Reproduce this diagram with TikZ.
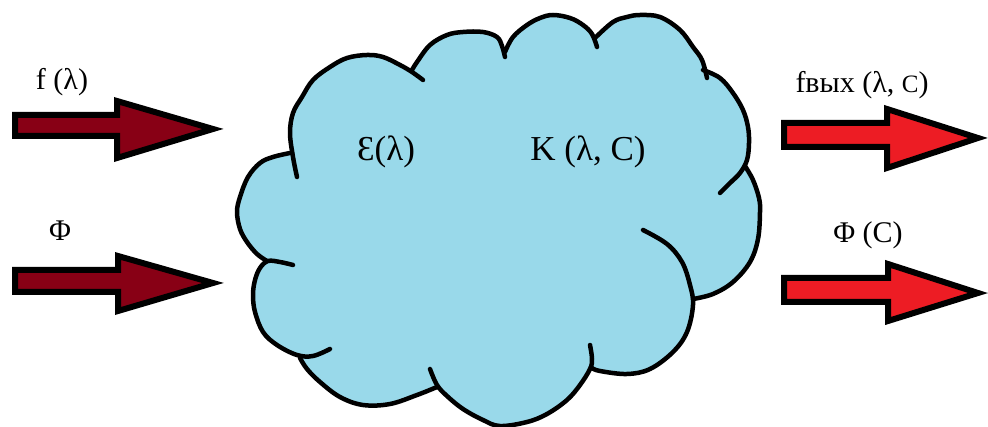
\documentclass[tikz,border=0pt]{standalone}
\usepackage{fontspec}
\setmainfont{Liberation Serif}
\definecolor{cloudblue}{HTML}{99D9EA}
\definecolor{darkred}{HTML}{880015}
\definecolor{brightred}{HTML}{ED1C24}
\begin{document}
\begin{tikzpicture}[x=1pt,y=-1pt,
  lobeline/.style={line width=4.5pt, line cap=round, line join=round},
  lobefill/.style={fill=cloudblue},
  inarrow/.style={draw=black, fill=darkred, line width=6pt, line join=miter},
  outarrow/.style={draw=black, fill=brightred, line width=6pt, line join=miter},
  lbl/.style={font=\fontsize{30}{36}\selectfont, inner sep=0pt},
  cloudlbl/.style={font=\fontsize{35}{42}\selectfont, inner sep=0pt}]
\useasboundingbox (0,0) rectangle (988,427);
\coordinate (cc) at (500,220);
% lobe point lists
\def\lobeA{(267,261) (257,254) (247,242) (240,229) (237,212) (240,197) (248,177) (260,163) (273,157) (290,153)}
\def\lobeB{(297,177) (293,157) (290,133) (293,113) (302,97) (313,80) (330,67) (347,58) (367,55) (383,57) (400,65) (412,72) (423,80)}
\def\lobeC{(412,70) (417,62) (430,45) (447,35) (463,32) (483,32) (497,37) (502,46) (505,57)}
\def\lobeD{(505,52) (513,37) (527,25) (540,18) (553,15) (570,18) (583,25) (592,34) (597,47)}
\def\lobeE{(595,38) (613,22) (627,17) (640,15) (660,17) (680,30) (693,47) (702,60) (707,78)}
\def\lobeF{(703,70) (720,78) (733,93) (743,110) (748,127) (749,143) (747,160) (740,173) (730,183) (720,193)}
\def\lobeG{(745,166) (753,180) (759,198) (760,212) (758,239) (750,262) (733,282) (713,294) (693,299)}
\def\lobeH{(643,230) (667,244) (682,262) (690,285) (693,305) (687,332) (673,352) (650,369) (627,374) (600,371) (592,368)}
\def\lobeI{(590,345) (592,359) (590,369) (580,385) (567,400) (547,414) (527,422) (500,426) (483,420) (463,409) (447,396) (437,385) (430,369)}
\def\lobeJ{(437,387) (417,395) (390,404) (363,405) (340,397) (320,382) (307,369) (300,358)}
\def\lobeK{(293,265) (280,262) (268,261) (260,268) (255,280) (253,295) (255,312) (263,332) (277,345) (297,355) (313,356) (330,349)}
% inner body of the cloud
\fill[lobefill] (290,153) -- (412,70) -- (505,55) -- (597,42) -- (705,72) -- (745,167) -- (693,299) -- (592,368) -- (437,386) -- (300,358) -- (267,261) -- cycle;
% lobe fills
\foreach \L in {\lobeA,\lobeB,\lobeC,\lobeD,\lobeE,\lobeF,\lobeG,\lobeH,\lobeI,\lobeJ,\lobeK}{
  \fill[lobefill] plot[smooth, tension=0.6] coordinates {\L} -- (cc) -- cycle;
}
% outline
\foreach \L in {\lobeA,\lobeB,\lobeC,\lobeD,\lobeE,\lobeF,\lobeG,\lobeH,\lobeI,\lobeJ,\lobeK}{
  \draw[lobeline] plot[smooth, tension=0.6] coordinates {\L};
}
% cloud texts
\node[cloudlbl] (eps) at (386,152) {Ɛ(λ)};
\node[cloudlbl] (kap) at (588,152) {K (λ, C)};
% input arrows
\draw[inarrow] (15,115) -- (117,115) -- (117,101) -- (213,129) -- (117,158) -- (117,136) -- (15,136) -- cycle;
\draw[inarrow] (15,270) -- (118,270) -- (118,256) -- (213,283) -- (118,311) -- (118,292) -- (15,292) -- cycle;
% output arrows
\draw[outarrow] (784,123) -- (887,123) -- (887,109) -- (978,138) -- (887,168) -- (887,147) -- (784,147) -- cycle;
\draw[outarrow] (784,278) -- (888,278) -- (888,264) -- (978,293) -- (888,321) -- (888,302) -- (784,302) -- cycle;
% labels
\node[lbl] (fin) at (62,82) {f (λ)};
\node[lbl] (phiin) at (60,231) {Φ};
\node[lbl] (fout) at (862,85) {fвых (λ, {\fontsize{25}{30}\selectfont C})};
\node[lbl] (phiout) at (868,235) {Φ (C)};
\end{tikzpicture}
\end{document}
